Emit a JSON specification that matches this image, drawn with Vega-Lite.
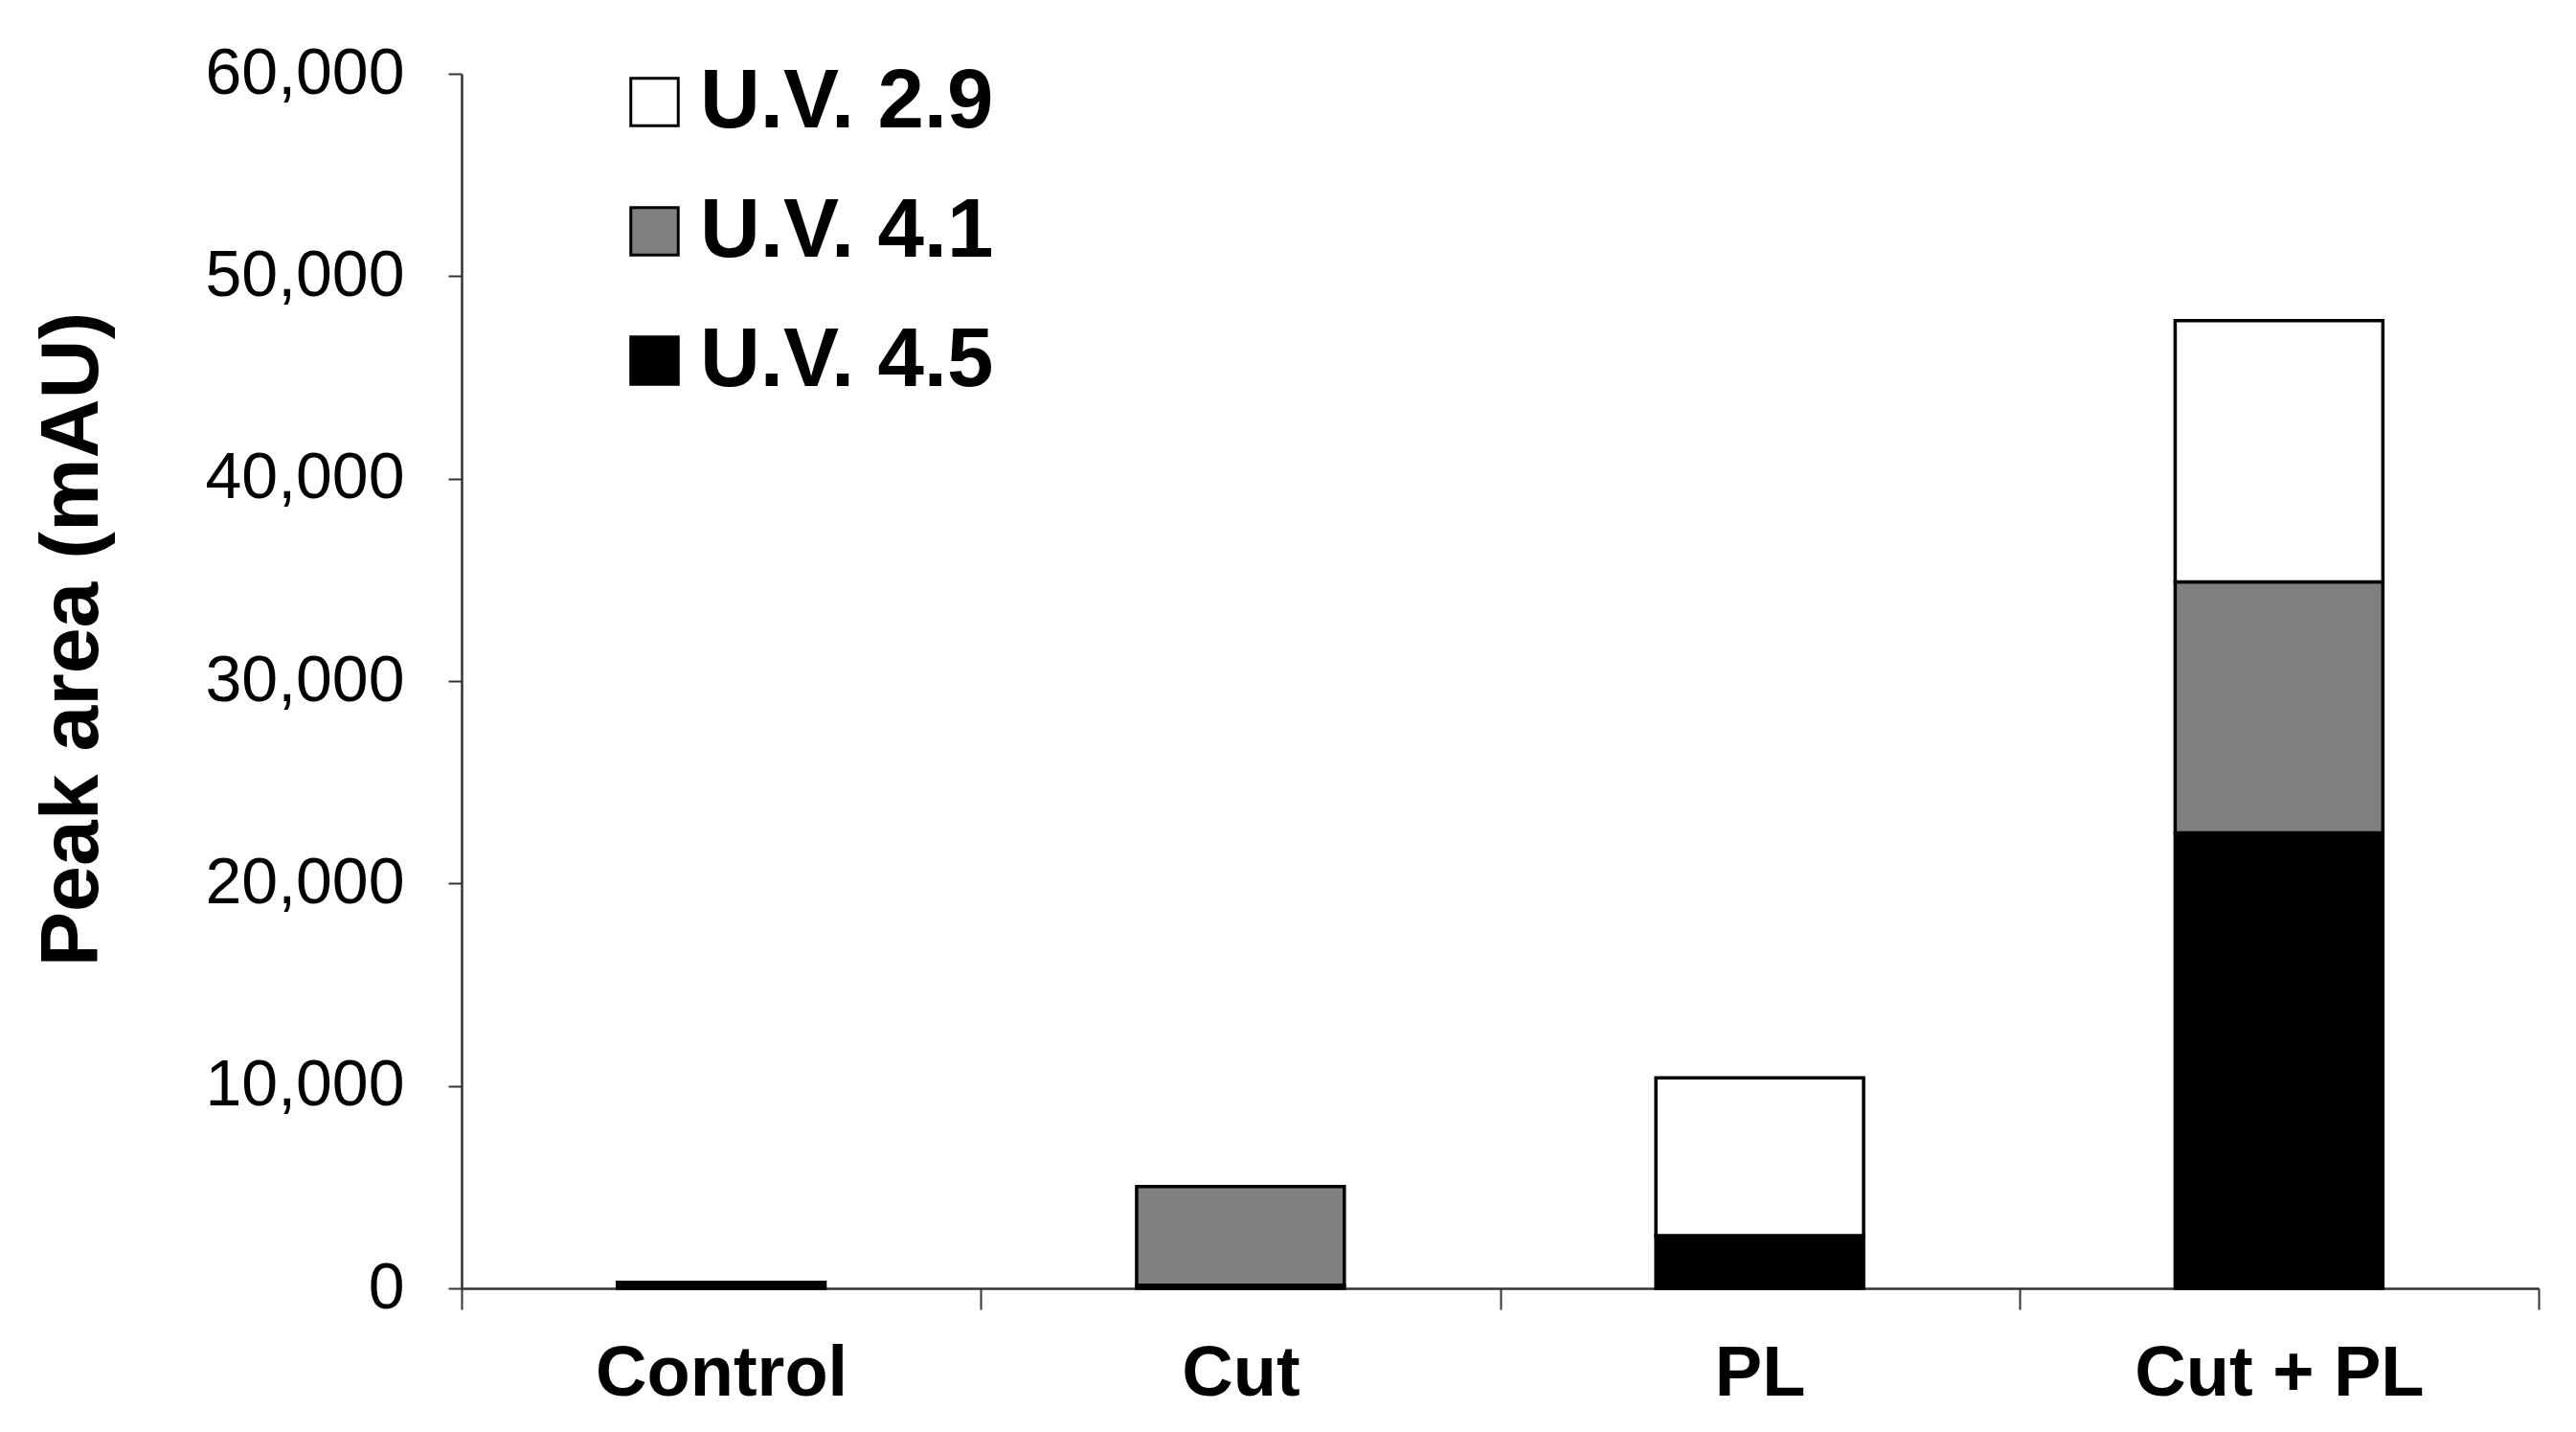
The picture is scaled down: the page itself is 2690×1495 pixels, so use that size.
{
  "$schema": "https://vega.github.io/schema/vega-lite/v6.json",
  "autosize": "none",
  "width": 2169,
  "height": 1268,
  "padding": {"left": 482, "top": 77, "right": 39, "bottom": 150},
  "background": "white",
  "data": {
    "values": [
      {"group": "Control", "series": "U.V. 4.5", "value": 300},
      {"group": "Cut", "series": "U.V. 4.5", "value": 150},
      {"group": "Cut", "series": "U.V. 4.1", "value": 4880},
      {"group": "PL", "series": "U.V. 4.5", "value": 2600},
      {"group": "PL", "series": "U.V. 2.9", "value": 7800},
      {"group": "Cut + PL", "series": "U.V. 4.5", "value": 22500},
      {"group": "Cut + PL", "series": "U.V. 4.1", "value": 12400},
      {"group": "Cut + PL", "series": "U.V. 2.9", "value": 12900}
    ]
  },
  "mark": {"type": "bar", "stroke": "black", "strokeWidth": 3.5, "width": {"band": 0.4}},
  "encoding": {
    "x": {
      "field": "group",
      "type": "nominal",
      "sort": ["Control", "Cut", "PL", "Cut + PL"],
      "scale": {"paddingInner": 0, "paddingOuter": 0},
      "axis": {
        "title": null,
        "labelAngle": 0,
        "labelLimit": 0,
        "tickBand": "extent",
        "tickSize": 22,
        "tickWidth": 2,
        "tickColor": "#333333",
        "domainColor": "#333333",
        "domainWidth": 2.5,
        "labelFont": "Liberation Sans",
        "labelFontWeight": "bold",
        "labelFontSize": 74,
        "labelColor": "black",
        "labelPadding": 31
      }
    },
    "y": {
      "field": "value",
      "type": "quantitative",
      "stack": "zero",
      "scale": {"domain": [0, 60000], "nice": false},
      "axis": {
        "title": "Peak area (mAU)",
        "values": [0, 10000, 20000, 30000, 40000, 50000, 60000],
        "format": ",d",
        "grid": false,
        "labelLimit": 0,
        "tickSize": 14,
        "tickWidth": 2,
        "tickColor": "#333333",
        "domainColor": "#333333",
        "domainWidth": 2.5,
        "labelFont": "Liberation Sans",
        "labelFontSize": 68,
        "labelColor": "black",
        "labelPadding": 46,
        "titleFont": "Liberation Sans",
        "titleFontWeight": "bold",
        "titleFontSize": 86,
        "titleColor": "black",
        "titleAngle": -90,
        "titleAlign": "center",
        "titleBaseline": "middle",
        "titleX": -407,
        "titleY": 590
      }
    },
    "color": {
      "field": "series",
      "type": "nominal",
      "scale": {"domain": ["U.V. 2.9", "U.V. 4.1", "U.V. 4.5"], "range": ["#ffffff", "#808080", "#000000"]},
      "legend": {
        "title": null,
        "orient": "none",
        "legendX": 158,
        "legendY": -14,
        "padding": 0,
        "symbolType": "square",
        "symbolSize": 2450,
        "symbolStrokeColor": "black",
        "symbolStrokeWidth": 3,
        "labelFont": "Liberation Sans",
        "labelFontWeight": "bold",
        "labelFontSize": 87,
        "labelColor": "black",
        "labelLimit": 0,
        "labelOffset": 4,
        "rowPadding": 47
      }
    },
    "order": {"field": "series", "sort": "descending"}
  },
  "config": {"view": {"stroke": null}}
}
